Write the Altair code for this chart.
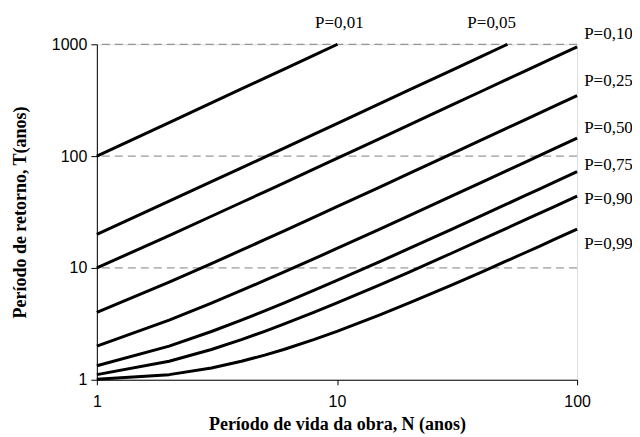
import altair as alt
import pandas as pd

# Return period T (years) vs. service life N (years)
N_full = [1, 2, 3, 4, 5, 6, 8, 10, 15, 20, 30, 40, 50, 60, 70, 80, 100]

p001_N = [1, 2, 3, 4, 5, 6, 8, 10, 10.05]
p001_T = [100, 199.5, 299, 398.5, 498, 597.5, 796.5, 995.5, 1000]

p005_N = [1, 2, 3, 4, 5, 6, 8, 10, 15, 20, 30, 40, 50, 51.25]
p005_T = [20, 39.5, 59.0, 78.5, 98.0, 117.5, 156.5, 195.5, 293, 390.5, 585.5, 780.5, 975.5, 1000]

p010_T = [10, 19.49, 28.98, 38.47, 47.96, 57.45, 76.4, 95.4, 142.9, 190.3, 285.2, 380.1, 475.1, 570, 664.9, 759.8, 949.6]
p025_T = [4, 7.46, 10.94, 14.41, 17.89, 21.36, 28.31, 35.26, 52.6, 70.0, 104.8, 139.5, 174.3, 209.1, 243.8, 278.6, 348.1]
p050_T = [2, 3.41, 4.85, 6.29, 7.73, 9.17, 12.04, 14.93, 22.14, 29.36, 43.78, 58.2, 72.6, 87.1, 101.5, 115.9, 144.8]
p075_T = [1.333, 2.0, 2.70, 3.41, 4.13, 4.85, 6.29, 7.73, 11.32, 14.93, 22.14, 29.36, 36.57, 43.78, 50.99, 58.2, 72.6]
p090_T = [1.111, 1.462, 1.866, 2.285, 2.71, 3.14, 4.0, 4.86, 7.02, 9.19, 13.53, 17.87, 22.2, 26.6, 30.9, 35.2, 43.9]
p099_T = [1.0101, 1.111, 1.275, 1.462, 1.661, 1.866, 2.285, 2.71, 3.78, 4.86, 7.03, 9.19, 11.36, 13.53, 15.7, 17.87, 22.2]

label_text = ["P=0,01", "P=0,05", "P=0,10", "P=0,25", "P=0,50", "P=0,75", "P=0,90", "P=0,99"]
label_N = [10.24, 44.1, 107, 107, 107, 107, 107, 107]
label_T = [1560, 1560, 1230, 470, 178, 83, 41.5, 16.4]
label_align = ["center", "center", "left", "left", "left", "left", "left", "left"]

rows = []
def add(name, ns, ts):
    for n, t in zip(ns, ts):
        rows.append({"serie": name, "N": n, "T": t})

add("P=0,01", p001_N, p001_T)
add("P=0,05", p005_N, p005_T)
add("P=0,10", N_full, p010_T)
add("P=0,25", N_full, p025_T)
add("P=0,50", N_full, p050_T)
add("P=0,75", N_full, p075_T)
add("P=0,90", N_full, p090_T)
add("P=0,99", N_full, p099_T)
df = pd.DataFrame(rows)

labels = pd.DataFrame({"text": label_text, "N": label_N, "T": label_T, "align": label_align})

xscale = alt.Scale(type="log", domain=[1, 100], nice=False)
yscale = alt.Scale(type="log", domain=[1, 1000], nice=False)

grid = alt.Chart(pd.DataFrame({"T": [10, 100, 1000]})).mark_rule(
    color="#808080", strokeDash=[8, 5], strokeWidth=1
).encode(y=alt.Y("T:Q", scale=yscale))

lines = alt.Chart(df).mark_line(color="black", strokeWidth=3, strokeJoin="round").encode(
    x=alt.X("N:Q", scale=xscale,
            axis=alt.Axis(values=[1, 10, 100], format="d", grid=False,
                          title="Período de vida da obra, N (anos)",
                          titleFont="Liberation Serif", titleFontSize=18, titleFontWeight="bold",
                          titleColor="black", titlePadding=6,
                          labelFont="Liberation Sans", labelFontSize=16, labelColor="black",
                          labelPadding=9, tickSize=5, tickColor="black",
                          domainColor="black", labelFlush=False)),
    y=alt.Y("T:Q", scale=yscale,
            axis=alt.Axis(values=[1, 10, 100, 1000], format="d", grid=False,
                          title="Período de retorno, T(anos)",
                          titleFont="Liberation Serif", titleFontSize=18, titleFontWeight="bold",
                          titleColor="black", titlePadding=22,
                          labelFont="Liberation Sans", labelFontSize=16, labelColor="black",
                          labelPadding=4, tickSize=6, tickColor="black",
                          domainColor="black", labelFlush=False)),
    detail="serie:N",
)

text_left = alt.Chart(labels[labels["align"] == "left"]).mark_text(
    align="left", baseline="middle", font="Liberation Serif", fontSize=17, color="black"
).encode(x=alt.X("N:Q", scale=xscale), y=alt.Y("T:Q", scale=yscale), text="text:N")

text_center = alt.Chart(labels[labels["align"] == "center"]).mark_text(
    align="center", baseline="middle", font="Liberation Serif", fontSize=17, color="black"
).encode(x=alt.X("N:Q", scale=xscale), y=alt.Y("T:Q", scale=yscale), text="text:N")

chart = alt.layer(grid, lines, text_left, text_center).properties(
    width=481, height=336,
    padding={"left": 89, "top": 36, "right": 55, "bottom": 56},
    autosize=alt.AutoSizeParams(type="none"),
).configure_view(stroke=None).configure(background="white")

chart.save("out.html", embed_options={"renderer": "svg", "actions": False})
